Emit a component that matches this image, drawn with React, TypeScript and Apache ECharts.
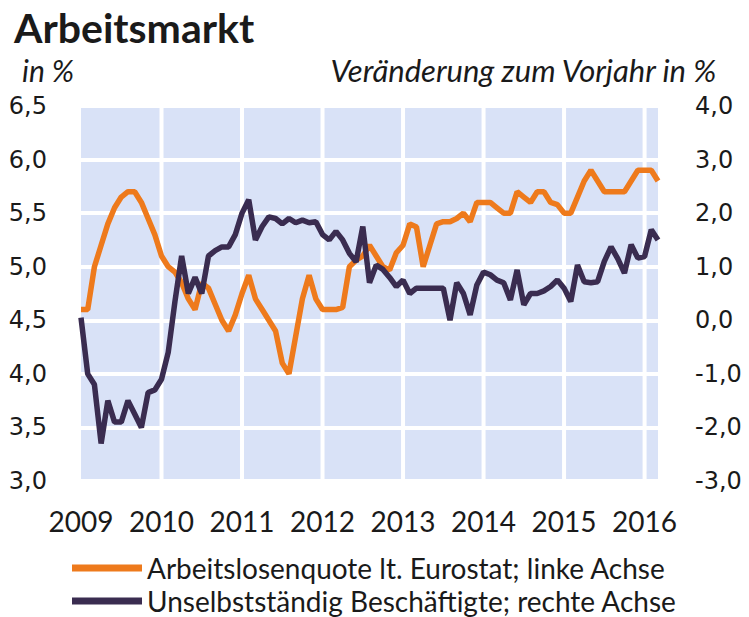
import React, { useEffect, useRef } from "react";
import * as echarts from "echarts";

// Monthly, Jan 2009 - Mar 2016
const startYear = 2009;
const monthCount = 87;

const months: string[] = [];
for (let i = 0; i < monthCount; i++) {
  const y = startYear + Math.floor(i / 12);
  const m = (i % 12) + 1;
  months.push(`${y}-${m < 10 ? "0" + m : m}`);
}
// Year boundaries (January of each year after the first)
const yearStarts: string[] = ["2010-01", "2011-01", "2012-01", "2013-01", "2014-01", "2015-01", "2016-01"];

const leftMin = 3;
const leftMax = 6.5;
const leftStep = 0.5;
const rightMin = -3;
const rightMax = 4;
const rightStep = 1;

const unemploymentRate: number[] = [
  4.6, 4.6, 5.0, 5.2, 5.4, 5.55, 5.65, 5.7, 5.7, 5.6, 5.45, 5.3,
  5.1, 5.0, 4.95, 4.85, 4.7, 4.6, 4.85, 4.8, 4.65, 4.5, 4.4, 4.55,
  4.75, 4.92, 4.7, 4.6, 4.5, 4.4, 4.1, 4.0, 4.35, 4.7, 4.92, 4.7,
  4.6, 4.6, 4.6, 4.62, 5.0, 5.06, 5.1, 5.2, 5.1, 5.0, 4.97, 5.13,
  5.2, 5.4, 5.37, 5.0, 5.2, 5.4, 5.42, 5.42, 5.45, 5.5, 5.42, 5.6,
  5.6, 5.6, 5.55, 5.5, 5.5, 5.7, 5.65, 5.6, 5.7, 5.7, 5.6, 5.58,
  5.5, 5.5, 5.65, 5.8, 5.9, 5.8, 5.7, 5.7, 5.7, 5.7, 5.8, 5.9,
  5.9, 5.9, 5.8,
];

const employmentChange: number[] = [
  0.05, -1.0, -1.2, -2.3, -1.5, -1.9, -1.9, -1.5, -1.75, -2.0, -1.35, -1.3,
  -1.1, -0.6, 0.35, 1.2, 0.5, 0.8, 0.5, 1.2, 1.3, 1.37, 1.37, 1.6,
  2.0, 2.25, 1.5, 1.75, 1.93, 1.9, 1.8, 1.9, 1.82, 1.87, 1.82, 1.84,
  1.6, 1.5, 1.66, 1.5, 1.25, 1.09, 1.75, 0.7, 1.03, 0.95, 0.8, 0.63,
  0.75, 0.5, 0.6, 0.6, 0.6, 0.6, 0.6, 0.0, 0.7, 0.5, 0.1, 0.66,
  0.9, 0.85, 0.75, 0.7, 0.38, 0.94, 0.29, 0.5, 0.5, 0.55, 0.63, 0.75,
  0.6, 0.35, 1.03, 0.72, 0.7, 0.72, 1.1, 1.37, 1.15, 0.88, 1.41, 1.16,
  1.19, 1.69, 1.5,
];

const seriesNames = [
  "Arbeitslosenquote lt. Eurostat; linke Achse",
  "Unselbstständig Beschäftigte; rechte Achse",
];
const title = "Arbeitsmarkt";
const leftUnit = "in %";
const rightUnit = "Veränderung zum Vorjahr in %";

const ORANGE = "#EE7A1C";
const PURPLE = "#3A2C50";
const TEXT = "#1a1a1a";
const HUMAN = "Lato, 'Open Sans', sans-serif";
const NUM = "'DejaVu Sans', Verdana, sans-serif";

const fmt = (v: number) => v.toFixed(1).replace(".", ",");

export default function App() {
  const ref = useRef<HTMLDivElement>(null);
  useEffect(() => {
    if (!ref.current) return;
    const chart = echarts.init(ref.current, undefined, { renderer: "svg" });
    const isYearStart = (i: number) => i % 12 === 0;
    // vertical white separators at year starts, drawn through the axes' own scales
    const yearGridData: any[] = [];
    yearStarts.forEach((m) => {
      yearGridData.push([m, leftMin]);
      yearGridData.push([m, leftMax]);
      yearGridData.push([m, "-"]);
    });
    chart.setOption({
      animation: false,
      backgroundColor: "#ffffff",
      grid: {
        left: 81,
        right: 91,
        top: 106,
        height: 375,
        show: true,
        backgroundColor: "#D9E2F7",
        borderWidth: 0,
      },
      graphic: [
        {
          type: "text",
          left: 14,
          top: 7,
          style: {
            text: title,
            font: `bold 41px ${HUMAN}`,
            fill: TEXT,
          },
        },
        {
          type: "text",
          left: 22,
          top: 55,
          style: {
            text: leftUnit,
            font: `italic 30px ${HUMAN}`,
            fill: TEXT,
          },
        },
        {
          type: "text",
          right: 31,
          top: 54,
          style: {
            text: rightUnit,
            font: `italic 31px ${HUMAN}`,
            fill: TEXT,
          },
        },
      ],
      legend: {
        orient: "vertical",
        left: 72,
        top: 554,
        height: 80,
        padding: 0,
        itemWidth: 70,
        itemHeight: 7,
        itemGap: 5,
        icon: "rect",
        textStyle: {
          fontFamily: HUMAN,
          fontSize: 28,
          lineHeight: 26,
          color: TEXT,
        },
        data: seriesNames,
      },
      xAxis: {
        type: "category",
        data: months,
        boundaryGap: false,
        axisLine: { show: false },
        axisTick: { show: false },
        axisLabel: {
          interval: (i: number) => isYearStart(i),
          formatter: (v: string) => v.slice(0, 4),
          fontFamily: HUMAN,
          fontSize: 28,
          color: TEXT,
          margin: 26,
        },
        splitLine: { show: false },
      },
      yAxis: [
        {
          type: "value",
          min: leftMin,
          max: leftMax,
          interval: leftStep,
          axisLine: { show: false },
          axisTick: { show: false },
          axisLabel: {
            formatter: (v: number) => fmt(v),
            fontFamily: NUM,
            fontSize: 24,
            color: TEXT,
            margin: 34,
          },
          splitLine: {
            show: true,
            lineStyle: { color: "#ffffff", width: 4 },
          },
        },
        {
          type: "value",
          min: rightMin,
          max: rightMax,
          interval: rightStep,
          position: "right",
          axisLine: { show: false },
          axisTick: { show: false },
          axisLabel: {
            formatter: (v: number) => fmt(v),
            fontFamily: NUM,
            fontSize: 24,
            color: TEXT,
            margin: 37,
          },
          splitLine: { show: false },
        },
      ],
      series: [
        {
          name: "yearGrid",
          type: "line",
          xAxisIndex: 0,
          yAxisIndex: 0,
          data: yearGridData,
          silent: true,
          showSymbol: false,
          symbol: "none",
          connectNulls: false,
          lineStyle: { color: "#ffffff", width: 4 },
          itemStyle: { color: "#ffffff" },
          tooltip: { show: false },
        },
        {
          name: seriesNames[0],
          type: "line",
          yAxisIndex: 0,
          data: unemploymentRate,
          showSymbol: false,
          symbol: "none",
          lineStyle: { color: ORANGE, width: 5.5 },
          itemStyle: { color: ORANGE },
        },
        {
          name: seriesNames[1],
          type: "line",
          yAxisIndex: 1,
          data: employmentChange,
          showSymbol: false,
          symbol: "none",
          lineStyle: { color: PURPLE, width: 5.5 },
          itemStyle: { color: PURPLE },
        },
      ],
    });
    return () => chart.dispose();
  }, []);
  return (
    <div
      ref={ref}
      style={{ position: "fixed", left: 0, top: 0, width: 749, height: 617 }}
    />
  );
}
